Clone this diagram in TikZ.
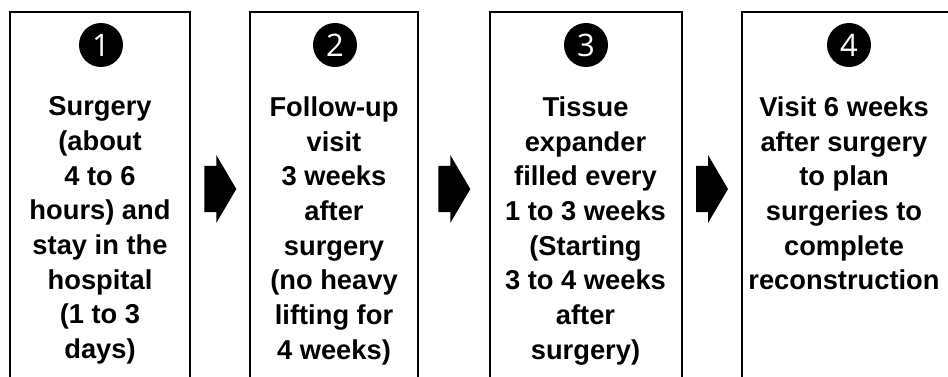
\documentclass[tikz,border=0pt]{standalone}
\usepackage{fontspec}
\setmainfont{Liberation Sans}
\newfontfamily\numfont{Open Sans}
\begin{document}
\begin{tikzpicture}[x=1pt,y=-1pt,
  stepbox/.style={draw=black, line width=2pt, minimum height=388pt, inner sep=0pt, outer sep=0pt, anchor=north},
  numdot/.style={circle, fill=black, minimum size=44pt, inner sep=0pt, text=white, font=\numfont\fontsize{31}{31}\selectfont},
  steptext/.style={align=center, inner sep=0pt, anchor=north, font=\bfseries\fontsize{27.3}{34.7}\selectfont},
  chev/.pic={\fill[black] (0,-23) -- (12,-23) -- (12,-34) -- (32,0) -- (12,34) -- (12,23) -- (0,23) -- cycle;}]
\clip (0,0) rectangle (948,377);
% boxes
\node[stepbox, minimum width=180.5pt] (b1) at (99.75,12) {};
\node[stepbox, minimum width=168.3pt] (b2) at (334.15,12) {};
\node[stepbox, minimum width=191.7pt] (b3) at (585.85,12) {};
\node[stepbox, minimum width=214.3pt] (b4) at (848.85,12) {};
% numbers
\node[numdot] (n1) at (101,45) {1};
\node[numdot] (n2) at (335,45) {2};
\node[numdot] (n3) at (586,45) {3};
\node[numdot] (n4) at (849,45) {4};
% texts
\node[steptext] (t1) at (100,96.5) {Surgery\\(about\\4 to 6\\hours) and\\stay in the\\hospital\\(1 to 3\\days)};
\node[steptext] (t2) at (334,96.5) {Follow-up\\visit\\3 weeks\\after\\surgery\\(no heavy\\lifting for\\4 weeks)};
\node[steptext] (t3) at (585.5,96.5) {Tissue\\expander\\filled every\\1 to 3 weeks\\(Starting\\3 to 4 weeks\\after\\surgery)};
\node[steptext] (t4) at (844,96.5) {Visit 6 weeks\\after surgery\\to plan\\surgeries to\\complete\\reconstruction};
% arrows
\pic at (204.3,189) {chev};
\pic at (438.3,189) {chev};
\pic at (696,189) {chev};
\end{tikzpicture}
\end{document}
